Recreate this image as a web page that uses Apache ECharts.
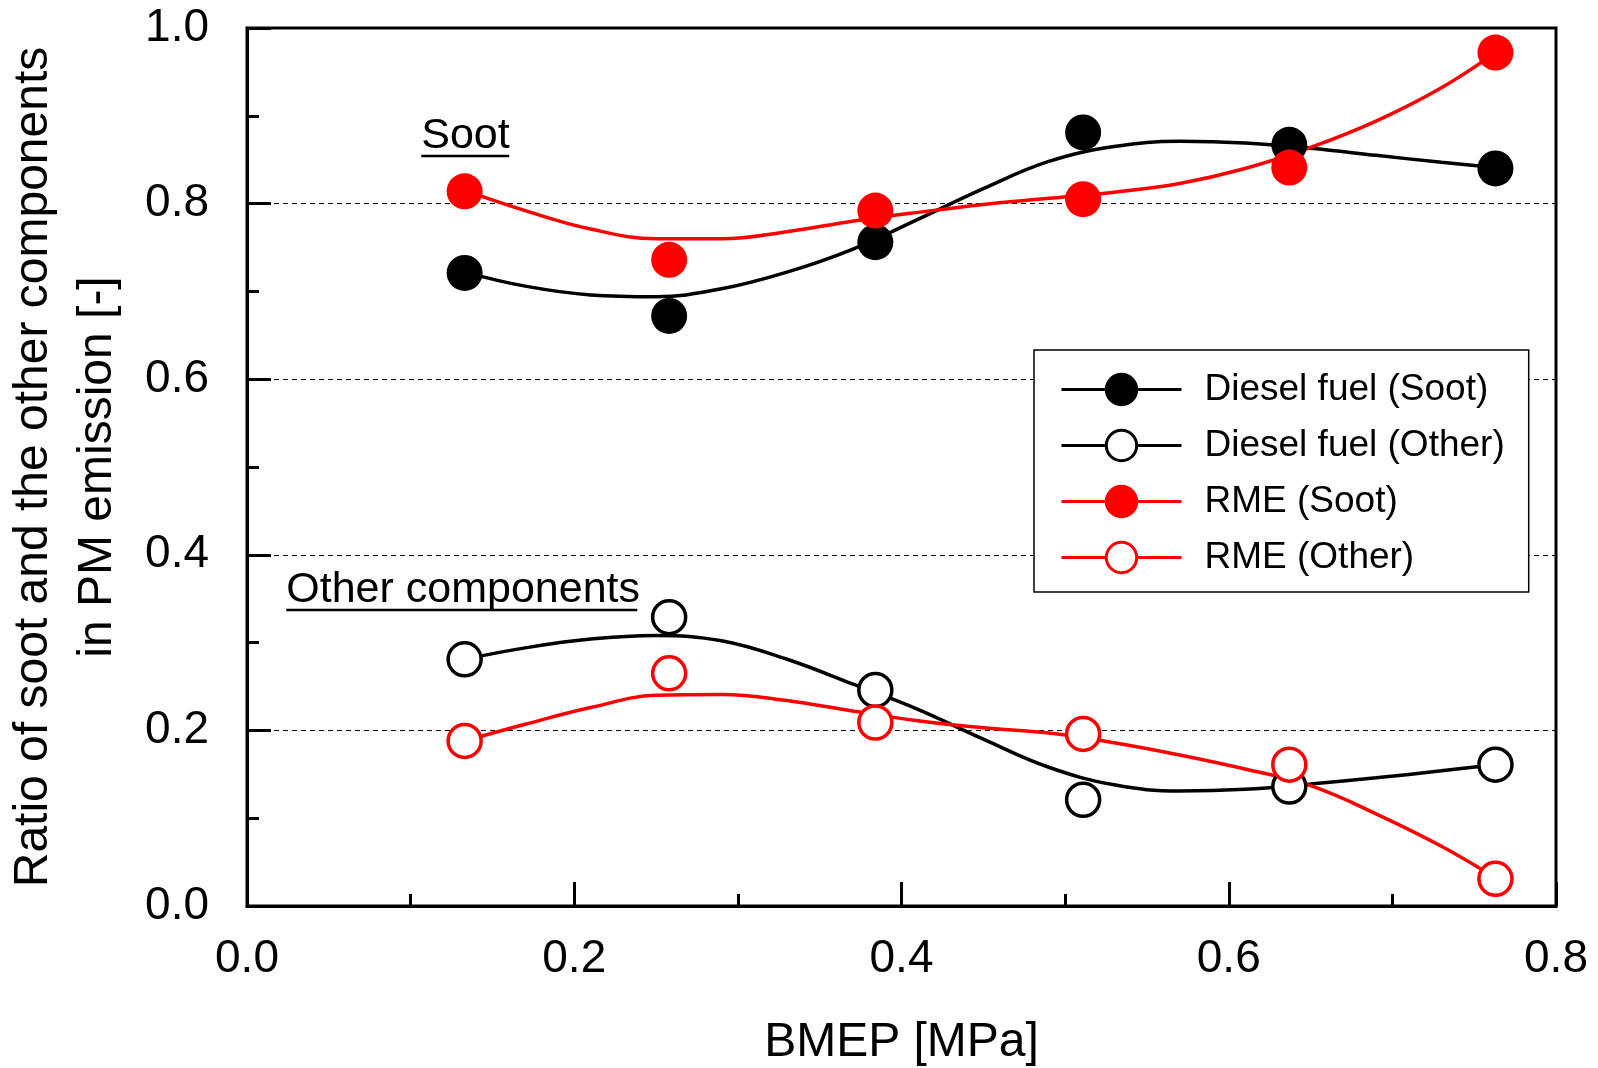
<!DOCTYPE html>
<html>
<head>
<meta charset="utf-8">
<script src="https://cdn.jsdelivr.net/npm/echarts@6/dist/echarts.min.js"></script>
<style>
  html, body { margin: 0; padding: 0; background: #fff; }
  #chart { width: 1598px; height: 1068px; }
</style>
</head>
<body>
<div id="chart"></div>
<script>
  // measured points
  var bmep = [0.133, 0.258, 0.384, 0.511, 0.637, 0.763];
  var dieselSoot = [0.721, 0.672, 0.756, 0.881, 0.867, 0.840];
  var dieselOther = [0.281, 0.329, 0.246, 0.121, 0.136, 0.161];
  var rmeSoot = [0.814, 0.736, 0.792, 0.805, 0.841, 0.972];
  var rmeOther = [0.188, 0.265, 0.209, 0.196, 0.161, 0.031];

  // fitted curves
  var curveX = [0.133, 0.17, 0.21, 0.25, 0.29, 0.33, 0.37, 0.41, 0.45, 0.49, 0.53, 0.57, 0.61, 0.65, 0.69, 0.73, 0.763];
  var dieselSootFit = [0.722, 0.706, 0.696, 0.694, 0.703, 0.722, 0.748, 0.782, 0.817, 0.848, 0.865, 0.871, 0.869, 0.863, 0.855, 0.847, 0.841];
  var rmeSootFit = [0.815, 0.792, 0.771, 0.760, 0.760, 0.768, 0.780, 0.790, 0.799, 0.806, 0.813, 0.823, 0.840, 0.864, 0.894, 0.932, 0.972];
  var dieselOtherFit = [0.281, 0.294, 0.304, 0.308, 0.302, 0.281, 0.253, 0.224, 0.190, 0.158, 0.138, 0.131, 0.133, 0.139, 0.146, 0.154, 0.161];
  var rmeOtherFit = [0.188, 0.207, 0.226, 0.240, 0.241, 0.234, 0.222, 0.211, 0.203, 0.197, 0.186, 0.172, 0.156, 0.137, 0.105, 0.068, 0.032];

  var seriesNames = ['Diesel fuel (Soot)', 'Diesel fuel (Other)', 'RME (Soot)', 'RME (Other)'];

  var FONT = "'Liberation Sans', Arial, sans-serif";

  function pairs(xs, ys) {
    return xs.map(function (x, i) { return [x, ys[i]]; });
  }

  function curve(name, ys, color, filled) {
    return {
      name: name,
      type: 'line',
      data: pairs(curveX, ys),
      smooth: 0.4,
      showSymbol: false,
      symbol: 'circle',
      lineStyle: {color: color, width: 3.5},
      itemStyle: {color: filled ? color : '#fff', borderColor: color, borderWidth: 3},
      z: 2,
      silent: true
    };
  }

  function markers(name, ys, color, filled) {
    return {
      name: name + ' pts',
      type: 'scatter',
      data: pairs(bmep, ys),
      symbol: 'circle',
      symbolSize: filled ? 36 : 33,
      itemStyle: filled
        ? {color: color, opacity: 1}
        : {color: '#fff', borderColor: color, borderWidth: 3.5, opacity: 1},
      z: 3
    };
  }

  var myChart = echarts.init(document.getElementById('chart'));
  myChart.setOption({
    animation: false,
    textStyle: {fontFamily: FONT},
    grid: {
      left: 247,
      right: 42,
      top: 28,
      bottom: 162,
      outerBoundsMode: 'none',
      containLabel: false,
      show: true,
      borderColor: '#000',
      borderWidth: 3
    },
    legend: {
      data: seriesNames,
      orient: 'vertical',
      left: 1034,
      top: 350,
      padding: [21, 24, 16, 26],
      itemWidth: 120,
      itemHeight: 38,
      itemGap: 19,
      backgroundColor: '#fff',
      borderColor: '#000',
      borderWidth: 1.5,
      borderRadius: 0,
      selectedMode: false,
      itemStyle: {borderWidth: 3},
      lineStyle: {width: 3},
      textStyle: {fontSize: 37, color: '#000', fontFamily: FONT, padding: [0, 0, 0, 18]}
    },
    xAxis: {
      type: 'value',
      min: 0,
      max: 0.8,
      interval: 0.2,
      name: 'BMEP [MPa]',
      nameLocation: 'middle',
      nameGap: 113,
      nameTextStyle: {fontSize: 48, color: '#000', fontFamily: FONT},
      axisLine: {lineStyle: {color: '#000', width: 3}},
      axisTick: {inside: true, length: 24, lineStyle: {color: '#000', width: 3}},
      minorTick: {show: true, splitNumber: 2, length: 12, lineStyle: {color: '#000', width: 3}},
      splitLine: {show: false},
      axisLabel: {
        fontSize: 46, color: '#000', margin: 30, fontFamily: FONT,
        formatter: function (v) { return v.toFixed(1); }
      }
    },
    yAxis: {
      type: 'value',
      min: 0,
      max: 1,
      interval: 0.2,
      name: 'Ratio of soot and the other components\nin PM emission [-]',
      nameLocation: 'middle',
      nameGap: 117,
      nameTextStyle: {fontSize: 48, lineHeight: 64, color: '#000', fontFamily: FONT, align: 'center'},
      axisLine: {lineStyle: {color: '#000', width: 3}},
      axisTick: {inside: true, length: 24, lineStyle: {color: '#000', width: 3}},
      minorTick: {show: true, splitNumber: 2, length: 12, lineStyle: {color: '#000', width: 3}},
      splitLine: {show: true, lineStyle: {color: '#000', width: 1, type: [5, 4]}},
      axisLabel: {
        fontSize: 46, color: '#000', margin: 38, fontFamily: FONT,
        formatter: function (v) { return v.toFixed(1); }
      }
    },
    series: [
      curve(seriesNames[0], dieselSootFit, '#000', true),
      curve(seriesNames[1], dieselOtherFit, '#000', false),
      curve(seriesNames[2], rmeSootFit, '#ff0000', true),
      curve(seriesNames[3], rmeOtherFit, '#ff0000', false),
      markers(seriesNames[0], dieselSoot, '#000', true),
      markers(seriesNames[1], dieselOther, '#000', false),
      markers(seriesNames[2], rmeSoot, '#ff0000', true),
      markers(seriesNames[3], rmeOther, '#ff0000', false)
    ]
  });

  // underlined group labels, anchored in data coordinates
  var notes = [
    {text: 'Soot', at: [0.1065, 0.877], width: 88},
    {text: 'Other components', at: [0.024, 0.360], width: 351}
  ];
  var elements = [];
  notes.forEach(function (n) {
    var p = myChart.convertToPixel({gridIndex: 0}, n.at);
    elements.push({
      type: 'text',
      x: p[0],
      y: p[1],
      style: {text: n.text, fill: '#000', font: '43px ' + FONT, textVerticalAlign: 'middle', verticalAlign: 'middle'},
      z: 10
    });
    elements.push({
      type: 'line',
      shape: {x1: p[0], y1: p[1] + 20, x2: p[0] + n.width, y2: p[1] + 20},
      style: {stroke: '#000', lineWidth: 2.5},
      z: 10
    });
  });
  myChart.setOption({graphic: elements});
</script>
</body>
</html>
